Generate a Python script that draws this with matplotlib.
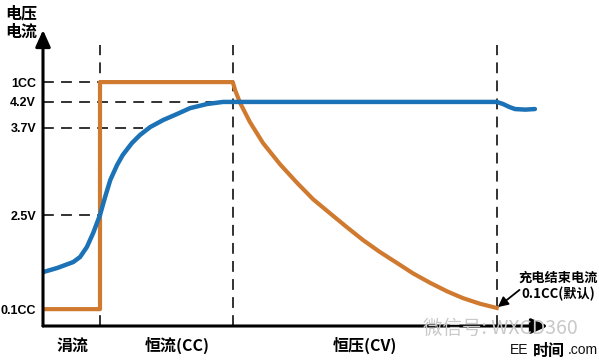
import matplotlib
matplotlib.use("Agg")
import matplotlib.pyplot as plt

plt.rcParams['font.family'] = ['Noto Sans CJK SC', 'DejaVu Sans']

# ---- data (time in arbitrary units, value in arbitrary units 0-100) ----
blue_t = [0.0, 0.25, 0.53, 0.65, 0.77, 0.88, 1.0, 1.09, 1.18, 1.30, 1.40, 1.56,
          1.70, 1.88, 2.11, 2.35, 2.58, 2.88, 3.16, 3.46,
          7.96, 8.07, 8.18, 8.28, 8.46, 8.63]
blue_v = [18.2, 19.6, 21.6, 23.3, 26.7, 31.4, 37.5, 43.6, 49.3, 54.4, 57.8, 61.8,
          64.5, 67.2, 69.6, 71.6, 73.6, 75.0, 75.7, 75.7,
          75.7, 75.0, 74.0, 73.3, 73.1, 73.3]

orange_t = [0.0, 1.0, 1.0, 3.33, 3.37, 3.46, 3.63, 3.86, 4.16, 4.46, 4.74, 5.04,
            5.33, 5.61, 5.91, 6.21, 6.49, 6.79, 7.09, 7.37, 7.67, 7.96]
orange_v = [5.7, 5.7, 82.4, 82.4, 79.7, 75.3, 68.9, 61.8, 54.6, 48.3, 42.8, 38.0,
            33.4, 29.1, 25.0, 21.3, 17.8, 14.6, 11.7, 9.4, 7.5, 6.1]

ytick_vals = [5.7, 37.5, 66.9, 75.7, 82.4]
ytick_labels = ["0.1CC", "2.5V", "3.7V", "4.2V", "1CC"]
hdash_end = [None, 1.0, 1.75, 3.46, 1.0]

phase_bounds = [1.0, 3.33, 7.96]
phase_labels = ["涓流", "恒流(CC)", "恒压(CV)"]
phase_centers = [0.51, 2.35, 5.65]

BLUE = "#1C72B6"
ORANGE = "#D07A30"
LATIN = ['Liberation Sans', 'DejaVu Sans']

fig = plt.figure(figsize=(5.99, 3.6), dpi=100)
ax = fig.add_axes([43/599, 34/360, (548-43)/599, (326-30)/360])
ax.set_xlim(0, 505/57)
ax.set_ylim(0, 100)
for s in ax.spines.values():
    s.set_visible(False)
ax.set_xticks([])
ax.set_yticks(ytick_vals)
ax.set_yticklabels(ytick_labels, fontsize=9, fontweight='bold', family=LATIN)
ax.tick_params(axis='y', length=0, pad=5)

# dashed guides
for v, e in zip(ytick_vals, hdash_end):
    if e is not None:
        ax.plot([0, e], [v, v], color='#222222', lw=1.3, ls=(0, (6, 4)), zorder=1)
for b in phase_bounds:
    ax.plot([b, b], [0, 95], color='#222222', lw=1.3, ls=(0, (6, 4)), zorder=1)

# curves
ax.plot(orange_t, orange_v, color=ORANGE, lw=3, zorder=3, solid_joinstyle='round')
ax.plot(blue_t, blue_v, color=BLUE, lw=3.2, zorder=4, solid_joinstyle='round',
        solid_capstyle='round')

# axes with arrows
ax.annotate("", xy=(0, 100), xytext=(0, 0),
            arrowprops=dict(arrowstyle="-|>,head_length=1.0,head_width=0.45",
                            color='black', lw=2.2, shrinkA=0, shrinkB=0),
            annotation_clip=False, zorder=5)
ax.annotate("", xy=(505/57, 0), xytext=(0, 0),
            arrowprops=dict(arrowstyle="-|>,head_length=1.0,head_width=0.45",
                            color='black', lw=2.2, shrinkA=0, shrinkB=0),
            annotation_clip=False, zorder=5)

# phase labels
for c, lab in zip(phase_centers, phase_labels):
    ax.text(c, -6.6, lab, ha='center', va='center', fontsize=11.5,
            fontweight='bold', clip_on=False)

# watermark
fig.text(500/599, 1-328/360, "微信号: WXCD360", color='#C9C9C9', fontsize=14,
         ha='center', va='center', style='italic')
fig.text(519/599, 1-350/360, "EE", color='#111111', fontsize=10,
         ha='center', va='center', family=LATIN)
fig.text(583/599, 1-350/360, ".com", color='#111111', fontsize=10,
         ha='center', va='center', family=LATIN)
fig.text(549/599, 1-351/360, "时间", fontsize=11.5, fontweight='bold',
         ha='center', va='center')

# y-axis title
fig.text(5/599, 1-6/360, "电压\n电流", fontsize=11.5, fontweight='bold',
         ha='left', va='top', linespacing=1.15)

# annotation
ax.annotate("", xy=(7.98, 6.4), xytext=(8.36, 12.2),
            arrowprops=dict(arrowstyle="-|>,head_length=0.6,head_width=0.3",
                            color='black', lw=1.3, shrinkA=0, shrinkB=0),
            annotation_clip=False, zorder=6)
fig.text(558/599, 1-286/360, "充电结束电流\n0.1CC(默认)", fontsize=9.5,
         fontweight='bold', ha='center', va='center', linespacing=1.2)

fig.savefig("out.png", dpi=100)
